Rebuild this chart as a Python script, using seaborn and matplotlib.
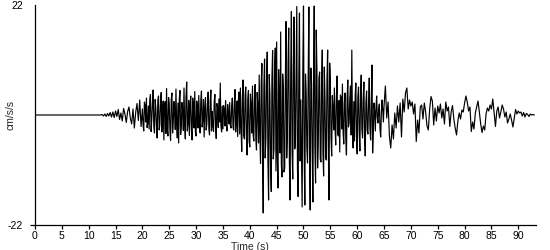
import numpy as np
import pandas as pd
import matplotlib
matplotlib.use("Agg")
import matplotlib.pyplot as plt
import seaborn as sns

# Sampling of the three parts of the record (start time s, interval s)
onset_start, onset_dt = 0.0, 0.25
strong_start, strong_dt = 20.0, 0.125
coda_start, coda_dt = 65.0, 0.25

# Acceleration (cm/s/s)
accel_onset = [
    # 0 - 4.75
    0.0, 0.0, 0.0, 0.0, 0.0, 0.0, 0.0, 0.0, 0.0, 0.0, 0.0, 0.0, 0.0, 0.0, 0.0, 0.0, 0.0, 0.0, 0.0, 0.0,
    # 5 - 9.75
    0.0, 0.0, 0.0, 0.0, 0.0, 0.0, 0.0, 0.0, 0.0, 0.0, 0.0, 0.0, 0.0, 0.0, 0.0, 0.0, 0.0, 0.0, 0.0, 0.0,
    # 10 - 14.75
    0.0, 0.0, 0.0, 0.0, 0.0, 0.0, 0.0, 0.0, 0.0, 0.0, 0.1, -0.2, 0.2, -0.3, 0.3, -0.2, 0.5, -0.4, 0.6, -0.5,
    # 15 - 19.75
    0.8, -0.3, 1.1, -0.9, 0.4, -1.2, 1.3, 0.2, -1.5, 0.7, 1.6, -0.6, -1.8, 1.2, -2.6, 0.5, 2.3, -1.1, 3.0, -2.3,
]

accel_strong = [
    # 20 - 24.875
    1.2, -2.1, -3.2, 2.6, 2.0, -1.4, 3.4, -2.5, -1.6, 1.8, -2.8, 3.0, 4.1, -3.3, -0.8, 2.4, 5.0, -2.2, -3.6, 3.1,
    1.4, -2.0, -4.6, 2.9, 3.8, -3.0, -1.9, 2.2, 4.5, -3.4, 0.6, 2.8, -5.0, 1.6, 2.7, -3.7, 5.3, -2.6, -4.2, 3.5,
    # 25 - 29.875
    2.2, -3.0, -5.1, 3.2, 4.4, -3.6, -1.4, 2.7, 1.0, -2.9, 5.2, -1.8, -4.6, 2.4, -5.6, 3.3, 4.9, -3.9, -2.1, 2.5,
    0.8, -3.1, 5.4, -2.3, -4.8, 3.6, 6.6, -3.2, -1.5, 2.9, -4.1, 1.9, 3.8, -2.7, -5.0, 3.4, 1.7, -2.6, 4.7, -3.5,
    # 30 - 34.875
    -4.2, 2.8, 1.3, -2.6, 3.9, -1.7, -3.6, 2.9, 4.8, -2.4, -0.9, 3.1, -4.4, 1.5, 3.5, -3.0, -1.8, 2.2, 4.6, -2.8,
    -4.0, 2.6, 5.0, -3.2, 0.7, -2.1, -3.3, 2.7, 4.1, -1.9, -4.7, 2.3, 1.6, -2.5, 3.2, -1.4, 6.4, -2.2, -3.4, 1.8,
    # 35 - 39.875
    -2.8, 1.9, 1.0, -2.2, 2.9, -1.6, -3.2, 2.1, 0.4, -1.8, 2.5, -2.0, -2.6, 1.7, 3.4, -2.4, -3.0, 2.6, 5.1, -3.4,
    -1.2, 2.8, -4.3, 3.0, 4.6, -3.8, 5.4, -2.9, -7.3, 3.6, 7.0, -4.1, -4.8, 3.9, 5.6, -4.5, -8.0, 3.2, 4.9, -5.2,
    # 40 - 44.875
    -6.4, 4.2, 2.1, -3.6, 5.8, -4.0, -5.2, 3.3, 6.1, -4.8, -7.0, 4.5, 1.8, -5.6, 8.0, -3.9, -9.7, 6.2, 10.3, -7.4,
    -19.6, 5.8, 11.2, -8.6, -4.5, 7.3, 12.6, -9.2, -17.0, 8.1, 3.8, -10.4, -15.3, 7.6, 12.9, -8.8, -6.8, 9.5, 13.4, -11.2,
    # 45 - 49.875
    14.6, -8.4, -14.6, 9.1, 2.4, -7.6, 16.6, -9.8, -12.4, 8.2, 5.0, -11.4, -10.6, 7.4, 18.7, -8.6, -3.5, 10.2, 17.4, -9.4,
    -17.0, 8.8, 20.7, -7.2, -12.8, 9.6, 19.6, -6.8, -5.2, 8.4, 21.7, -10.8, -16.3, 7.0, 20.4, -9.2, 3.0, -7.8, -18.4, 9.0,
    # 50 - 54.875
    21.8, -7.4, -18.0, 8.2, 4.4, -6.6, -9.6, 7.8, 21.6, -8.0, -19.0, 9.4, 6.4, -7.2, -17.4, 8.6, 21.8, -6.4, -13.6, 17.0,
    9.2, -10.6, -5.8, 7.4, 8.6, -8.8, -9.4, 6.8, 13.0, -7.6, -12.2, 9.6, 3.4, -8.4, -9.0, 7.2, 13.0, -6.2, -17.0, 10.4,
    # 55 - 59.875
    6.8, -4.4, -8.2, 3.9, 1.4, -3.0, 5.4, -2.6, -6.0, 3.4, 7.8, -3.8, -4.2, 2.9, -7.4, 4.0, 3.6, -2.8, 6.2, -3.5,
    -5.8, 2.6, 4.4, -4.6, -8.0, 3.1, 7.0, -2.4, -1.6, 3.3, 5.8, -4.0, 13.0, -3.6, -6.6, 2.7, -5.2, 3.8, 6.4, -4.2,
    # 60 - 64.875
    -7.8, 3.6, 5.6, -3.4, -7.2, 4.1, 8.0, -2.9, -4.6, 3.2, 6.6, -4.3, -8.2, 2.5, 4.8, -3.1, -3.8, 2.8, 7.4, -2.6,
    -5.0, 1.9, 10.0, -7.6, -3.4, 2.4, 0.8, -3.2, 1.4, 3.8, -0.6, -1.6, 1.1, 2.2, -2.8, -4.4, 0.4, 3.0, 1.2, -1.4,
]

accel_coda = [
    # 65 - 69.75
    1.8, 5.8, -0.6, 2.6, -4.2, -6.6, -2.0, -4.8, 0.4, -2.6, 1.8, -1.4, 2.4, -4.4, 3.2, 0.6, 4.4, 5.4, 1.2, 3.0,
    # 70 - 74.75
    1.8, 2.6, 0.2, 2.2, -5.3, -1.0, -3.6, 1.6, 2.0, -0.8, 2.4, 0.6, -2.2, -3.0, 1.2, 3.7, 2.8, -2.0, 1.4, -1.2,
    # 75 - 79.75
    1.8, 0.4, 2.2, -0.6, 1.2, -1.8, 2.6, 0.8, 1.6, -2.3, 0.6, 1.9, -0.8, -2.6, -4.0, -1.2, 0.4, -0.8, 1.0, 0.6,
    # 80 - 84.75
    2.4, 3.8, 2.6, 0.8, 1.6, -3.3, -1.4, -2.8, 0.4, 1.6, 2.8, 0.6, -1.8, -3.5, -2.2, -3.0, 0.2, 1.4, 0.8, 2.0,
    # 85 - 89.75
    1.2, 3.2, 0.4, -2.3, 0.8, 1.6, -0.6, 0.6, 2.0, 1.2, -0.4, 0.6, -1.6, -0.8, 0.2, -1.0, -2.4, -0.6, 1.1, 0.2,
    # 90 - 93
    0.8, 0.4, 0.6, -0.2, 0.5, -0.4, 0.3, 0.1, -0.3, 0.2, 0.0, 0.1, 0.0,
]

x_ticks = [0, 5, 10, 15, 20, 25, 30, 35, 40, 45, 50, 55, 60, 65, 70, 75, 80, 85, 90]
y_ticks = [-22, 22]
x_label = "Time (s)"
y_label = "cm/s/s"

time = np.concatenate([
    onset_start + np.arange(len(accel_onset)) * onset_dt,
    strong_start + np.arange(len(accel_strong)) * strong_dt,
    coda_start + np.arange(len(accel_coda)) * coda_dt,
])
df = pd.DataFrame({"time": time, "accel": accel_onset + accel_strong + accel_coda})

sns.set_style("ticks")
plt.rcParams["font.family"] = ["Liberation Sans", "DejaVu Sans"]

fig = plt.figure(figsize=(5.5, 2.5), dpi=100)
ax = fig.add_axes([35 / 550, 25 / 250, 501 / 550, 220 / 250])

sns.lineplot(data=df, x="time", y="accel", ax=ax, color="black",
             linewidth=0.85, estimator=None, sort=False)

ax.set_xlim(0, 93.3)
ax.set_ylim(-22, 22)
ax.set_xticks(x_ticks)
ax.set_yticks(y_ticks)
ax.set_xticklabels([str(v) for v in x_ticks])
ax.set_yticklabels([str(v) for v in y_ticks])
for s in ["top", "right"]:
    ax.spines[s].set_visible(False)
for s in ["left", "bottom"]:
    ax.spines[s].set_color("black")
    ax.spines[s].set_linewidth(0.9)

ax.tick_params(axis="both", labelsize=7.5, width=0.9,
               color="black", labelcolor="black")
ax.tick_params(axis="x", pad=1.5, length=3)
ax.tick_params(axis="y", pad=5, length=3.5)
ax.yaxis.get_major_ticks()[1].tick1line.set_visible(False)

ax.set_xlabel(x_label, fontsize=7.5, labelpad=0)
ax.set_ylabel(y_label, fontsize=7.5)
ax.xaxis.set_label_coords(0.43, -0.075)
ax.yaxis.set_label_coords(-0.038, 0.5)

fig.savefig("out.png", dpi=100, facecolor="white")
